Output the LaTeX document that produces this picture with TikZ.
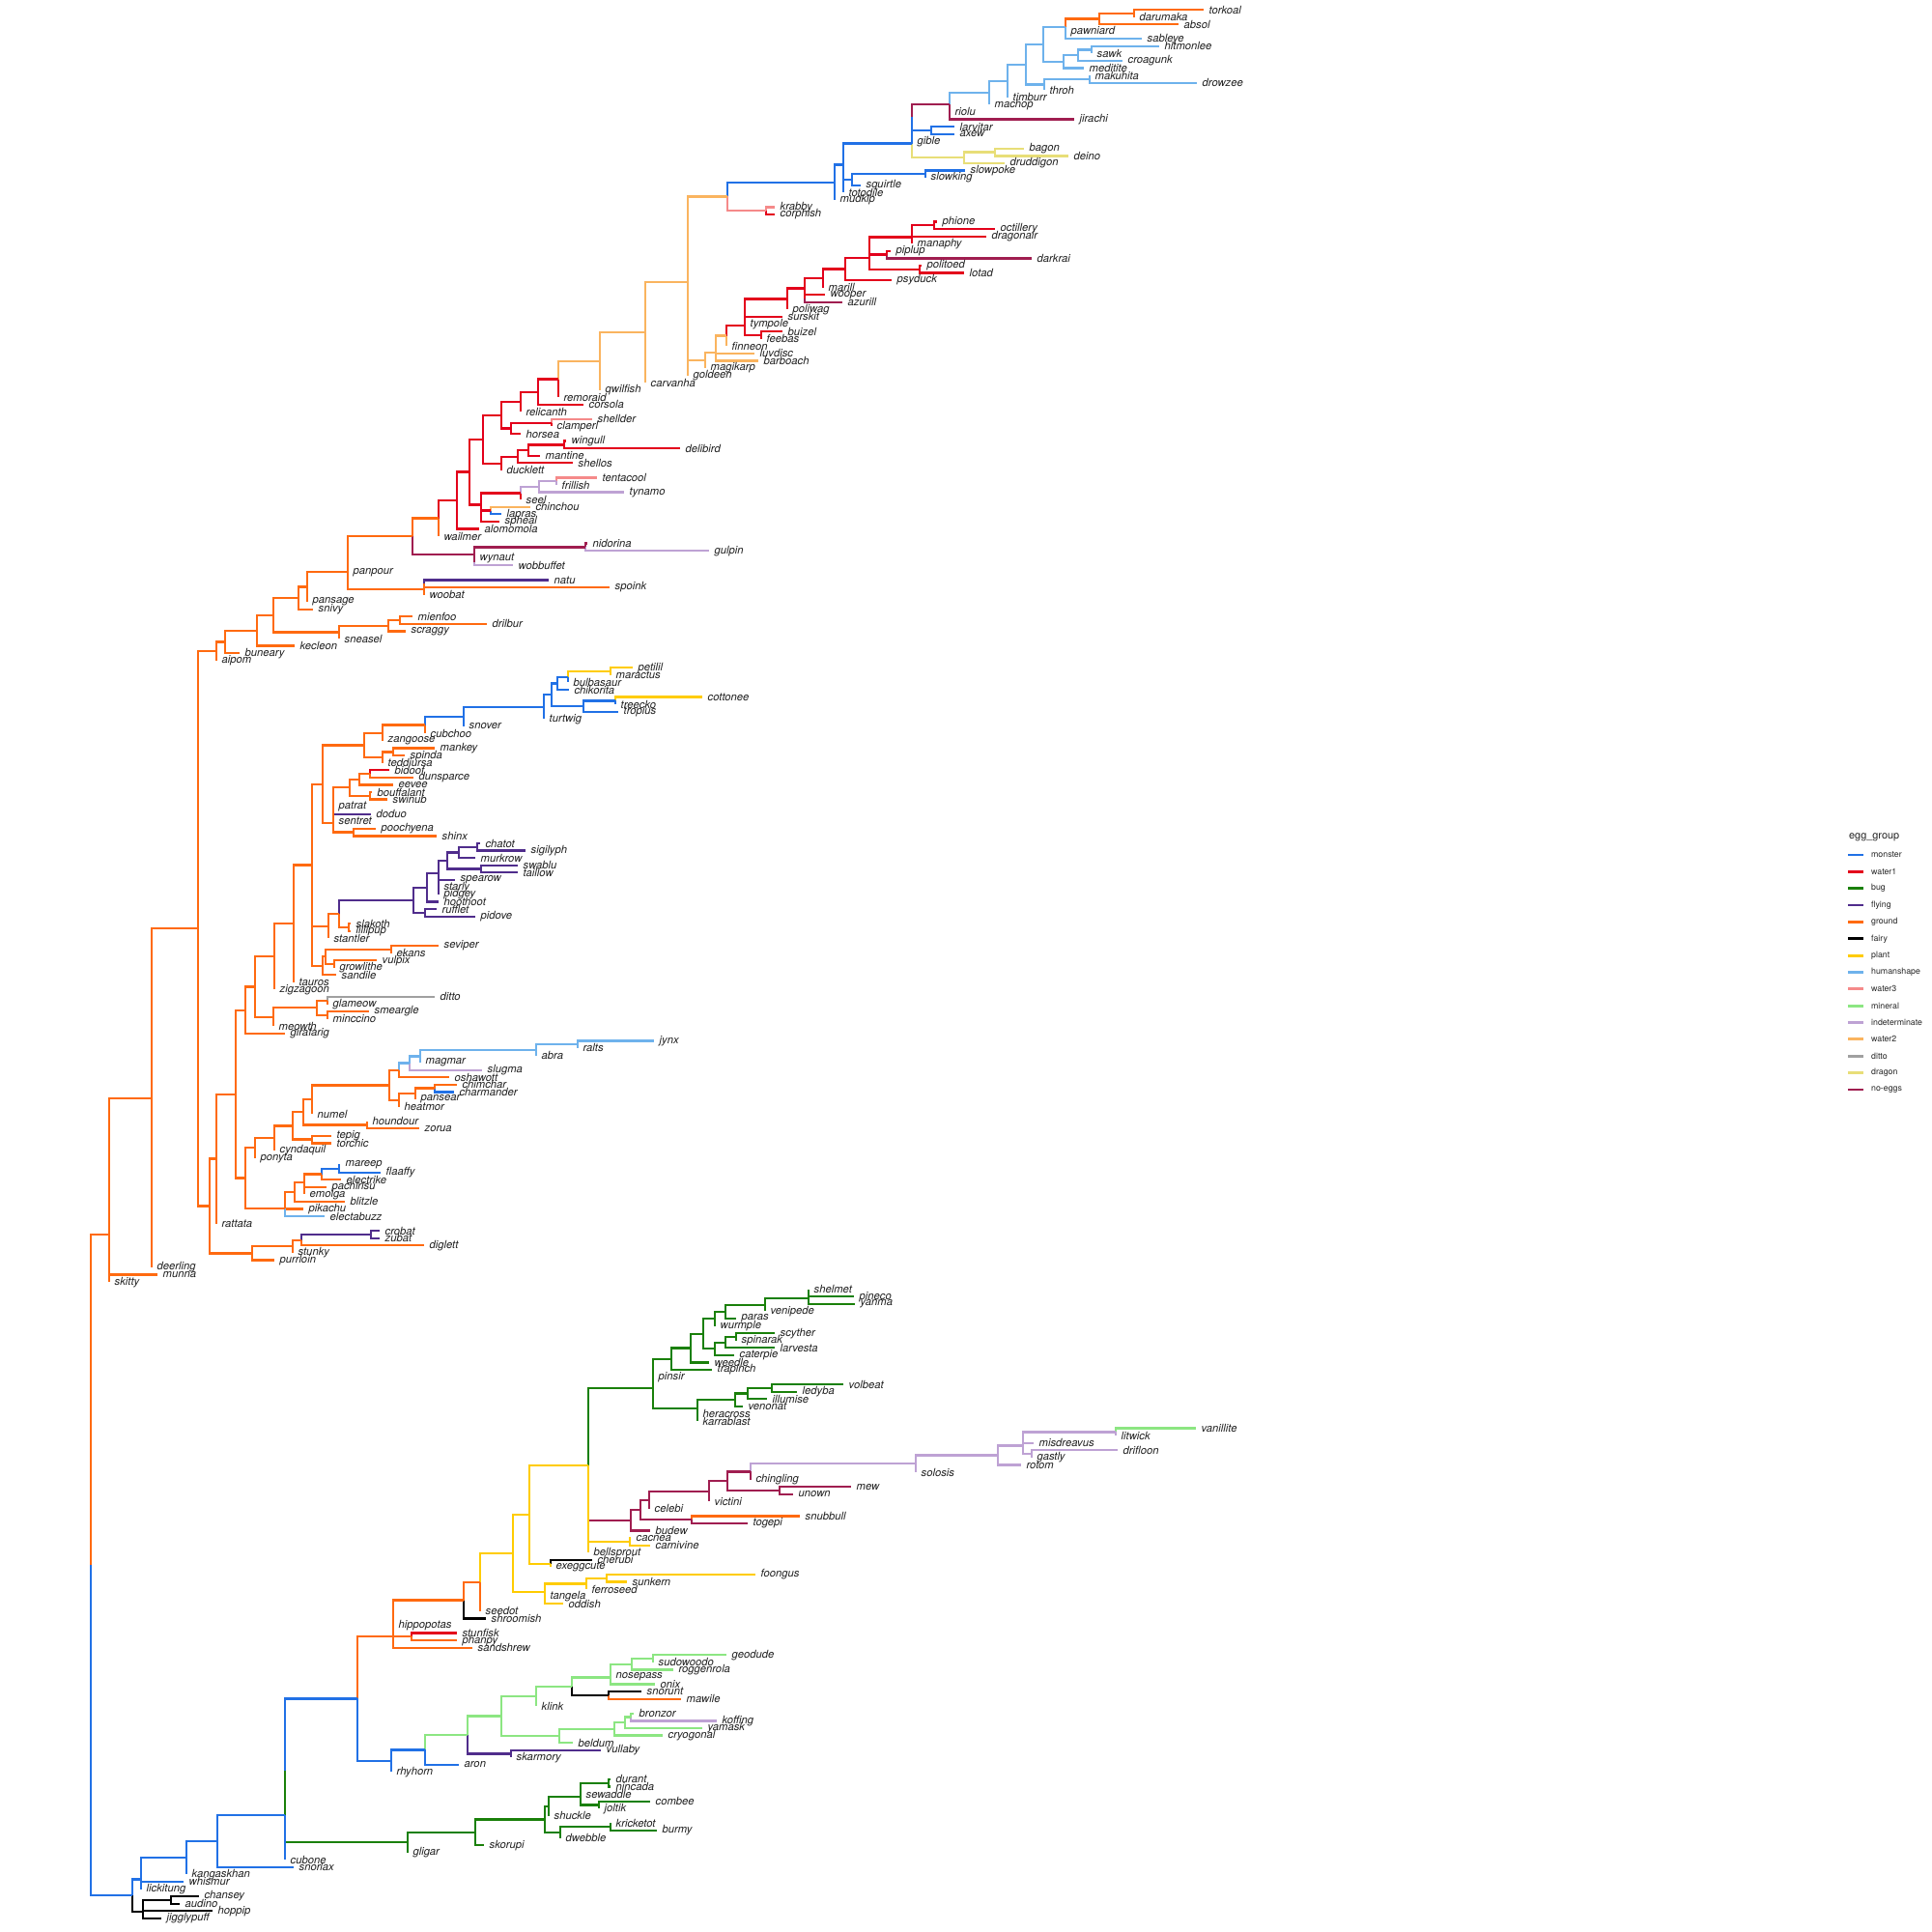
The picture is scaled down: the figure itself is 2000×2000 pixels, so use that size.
\documentclass[tikz,border=0pt]{standalone}
\usepackage{fontspec}
\setmainfont{TeX Gyre Heros}

\definecolor{monster}{RGB}{33,113,230}
\definecolor{water1}{RGB}{227,0,27}
\definecolor{bug}{RGB}{26,128,10}
\definecolor{flying}{RGB}{80,45,140}
\definecolor{ground}{RGB}{255,106,16}
\definecolor{fairy}{RGB}{0,0,0}
\definecolor{plant}{RGB}{255,204,0}
\definecolor{humanshape}{RGB}{110,178,236}
\definecolor{water3}{RGB}{245,138,138}
\definecolor{mineral}{RGB}{140,230,130}
\definecolor{indeterminate}{RGB}{190,162,212}
\definecolor{water2}{RGB}{250,180,95}
\definecolor{ditto}{RGB}{160,160,160}
\definecolor{dragon}{RGB}{232,222,120}
\definecolor{noeggs}{RGB}{160,30,80}

\newcounter{tiprow}
\newcommand{\tleaf}[3]{%
  \edef\rown{\arabic{tiprow}}%
  \pgfmathsetmacro{\rowy}{10+7.57*\rown}%
  \stepcounter{tiprow}%
  \expandafter\xdef\csname ty@#1\endcsname{\rowy}%
  \coordinate (#1) at (#2,\rowy);
  \node[tiplab] (#1-lab) at (#1) {#1};
  \tikzset{br-#1/.style={draw=#3}}%
}
\newcommand{\tnode}[5]{%
  \edef\ya{\csname ty@#4\endcsname}%
  \edef\yb{\csname ty@#5\endcsname}%
  \pgfmathsetmacro{\rowy}{(\ya+\yb)/2}%
  \expandafter\xdef\csname ty@#1\endcsname{\rowy}%
  \coordinate (#1) at (#2,\rowy);
  \draw[br-#4] (#1) |- (#4);
  \draw[br-#5] (#1) |- (#5);
  \tikzset{br-#1/.style={draw=#3}}%
}

\begin{document}
\begin{tikzpicture}[x=0.01cm,y=-0.01cm,line width=0.65pt,
  tiplab/.style={anchor=west,inner sep=0pt,xshift=0.045cm,text=black!88,
    font=\fontsize{3.2}{3.8}\selectfont\itshape},
  leglab/.style={anchor=west,inner sep=0pt,text=black!85,
    font=\fontsize{2.5}{3}\selectfont}]
\useasboundingbox (0,0) rectangle (2000,2000);

\tleaf{torkoal}{1246}{ground}
\tleaf{darumaka}{1174}{ground}
\tnode{nA1}{1174}{ground}{torkoal}{darumaka}
\tleaf{absol}{1220}{ground}
\tnode{nA2}{1138}{ground}{nA1}{absol}
\tleaf{pawniard}{1103}{humanshape}
\tleaf{sableye}{1182}{humanshape}
\tnode{nA3}{1103}{humanshape}{pawniard}{sableye}
\tnode{nA}{1103}{humanshape}{nA2}{nA3}
\tleaf{hitmonlee}{1200}{humanshape}
\tleaf{sawk}{1130}{humanshape}
\tnode{nB}{1130}{humanshape}{hitmonlee}{sawk}
\tleaf{croagunk}{1162}{humanshape}
\tnode{nC}{1116}{humanshape}{nB}{croagunk}
\tleaf{meditite}{1122}{humanshape}
\tnode{nD}{1101}{humanshape}{nC}{meditite}
\tnode{nE}{1080}{humanshape}{nA}{nD}
\tleaf{makuhita}{1128}{humanshape}
\tleaf{drowzee}{1239}{humanshape}
\tnode{nF}{1128}{humanshape}{makuhita}{drowzee}
\tleaf{throh}{1081}{humanshape}
\tnode{nG}{1081}{humanshape}{nF}{throh}
\tnode{nH}{1062}{humanshape}{nE}{nG}
\tleaf{timburr}{1043}{humanshape}
\tnode{nI}{1043}{humanshape}{nH}{timburr}
\tleaf{machop}{1024}{humanshape}
\tnode{nJ}{1024}{humanshape}{nI}{machop}
\tleaf{riolu}{983}{humanshape}
\tleaf{jirachi}{1112}{noeggs}
\tnode{nK2}{983}{noeggs}{riolu}{jirachi}
\tnode{nK}{983}{noeggs}{nJ}{nK2}
\tleaf{larvitar}{988}{monster}
\tleaf{axew}{988}{monster}
\tnode{nM}{964}{monster}{larvitar}{axew}
\tnode{nKM}{944}{monster}{nK}{nM}
\tleaf{gible}{944}{monster}
\tnode{nKMg}{944}{monster}{nKM}{gible}
\tleaf{bagon}{1060}{dragon}
\tleaf{deino}{1106}{dragon}
\tnode{nDr1}{1030}{dragon}{bagon}{deino}
\tleaf{druddigon}{1040}{dragon}
\tnode{nDr}{998}{dragon}{nDr1}{druddigon}
\tnode{nL}{944}{monster}{nKMg}{nDr}
\tleaf{slowpoke}{999}{monster}
\tleaf{slowking}{958}{monster}
\tnode{nN}{958}{monster}{slowpoke}{slowking}
\tleaf{squirtle}{891}{monster}
\tnode{nR}{882}{monster}{nN}{squirtle}
\tleaf{totodile}{873}{monster}
\tnode{nQ2}{873}{monster}{nR}{totodile}
\tnode{nQ}{873}{monster}{nL}{nQ2}
\tleaf{mudkip}{864}{monster}
\tnode{nP}{864}{monster}{nQ}{mudkip}
\tleaf{krabby}{802}{water3}
\tleaf{corphish}{802}{water1}
\tnode{nKc}{793}{water3}{krabby}{corphish}
\tnode{nS}{753}{water2}{nP}{nKc}
\tleaf{phione}{970}{water1}
\tleaf{octillery}{1030}{water1}
\tnode{nPo}{967}{water1}{phione}{octillery}
\tleaf{dragonair}{1021}{water1}
\tnode{nN1}{944}{water1}{nPo}{dragonair}
\tleaf{manaphy}{944}{water1}
\tnode{nN2}{944}{water1}{nN1}{manaphy}
\tleaf{piplup}{922}{water1}
\tleaf{darkrai}{1068}{noeggs}
\tnode{nPd}{918}{water1}{piplup}{darkrai}
\tnode{nW9a}{900}{water1}{nN2}{nPd}
\tleaf{politoed}{954}{water1}
\tleaf{lotad}{998}{water1}
\tnode{nPl}{952}{water1}{politoed}{lotad}
\tnode{nW9}{900}{water1}{nW9a}{nPl}
\tleaf{psyduck}{923}{water1}
\tnode{nW8}{875}{water1}{nW9}{psyduck}
\tleaf{marill}{852}{water1}
\tnode{nW7}{852}{water1}{nW8}{marill}
\tleaf{wooper}{854}{water1}
\tleaf{azurill}{872}{noeggs}
\tnode{nWA}{833}{water1}{wooper}{azurill}
\tnode{nW6}{833}{water1}{nW7}{nWA}
\tleaf{poliwag}{815}{water1}
\tnode{nW5}{815}{water1}{nW6}{poliwag}
\tleaf{surskit}{810}{water1}
\tnode{nW4a}{771}{water1}{nW5}{surskit}
\tleaf{tympole}{771}{water1}
\tnode{nW4b}{771}{water1}{nW4a}{tympole}
\tleaf{buizel}{810}{water1}
\tleaf{feebas}{788}{water1}
\tnode{nBf}{788}{water1}{buizel}{feebas}
\tnode{nW4m}{771}{water1}{nW4b}{nBf}
\tleaf{finneon}{752}{water2}
\tnode{nW3f}{752}{water2}{nW4m}{finneon}
\tleaf{luvdisc}{781}{water2}
\tnode{nW3l}{741}{water2}{nW3f}{luvdisc}
\tleaf{barboach}{785}{water2}
\tnode{nW3b}{741}{water2}{nW3l}{barboach}
\tleaf{magikarp}{730}{water2}
\tnode{nMg}{730}{water2}{nW3b}{magikarp}
\tleaf{goldeen}{712}{water2}
\tnode{nW1a}{712}{water2}{nMg}{goldeen}
\tnode{nW1}{712}{water2}{nS}{nW1a}
\tleaf{carvanha}{668}{water2}
\tnode{nW2}{668}{water2}{nW1}{carvanha}
\tleaf{qwilfish}{621}{water2}
\tnode{nW3}{621}{water2}{nW2}{qwilfish}
\tleaf{remoraid}{578}{water1}
\tnode{nW4}{578}{water1}{nW3}{remoraid}
\tleaf{corsola}{604}{water1}
\tnode{nCo}{557}{water1}{nW4}{corsola}
\tleaf{relicanth}{539}{water1}
\tnode{nRe}{539}{water1}{nCo}{relicanth}
\tleaf{shellder}{613}{water3}
\tleaf{clamperl}{571}{water1}
\tnode{nSc}{571}{water1}{shellder}{clamperl}
\tleaf{horsea}{539}{water1}
\tnode{nHo}{529}{water1}{nSc}{horsea}
\tnode{nRh}{519}{water1}{nRe}{nHo}
\tleaf{wingull}{586}{water1}
\tleaf{delibird}{704}{water1}
\tnode{nWd}{584}{water1}{wingull}{delibird}
\tleaf{mantine}{559}{water1}
\tnode{nMa}{547}{water1}{nWd}{mantine}
\tleaf{shellos}{593}{water1}
\tnode{nSh}{536}{water1}{nMa}{shellos}
\tleaf{ducklett}{519}{water1}
\tnode{nDu}{519}{water1}{nSh}{ducklett}
\tnode{nX5}{500}{water1}{nRh}{nDu}
\tleaf{tentacool}{618}{water3}
\tleaf{frillish}{576}{indeterminate}
\tnode{nTf}{576}{indeterminate}{tentacool}{frillish}
\tleaf{tynamo}{646}{indeterminate}
\tnode{nTy}{558}{indeterminate}{nTf}{tynamo}
\tleaf{seel}{539}{water1}
\tnode{nSe}{539}{water1}{nTy}{seel}
\tleaf{chinchou}{549}{water2}
\tleaf{lapras}{519}{monster}
\tnode{nCl}{508}{water1}{chinchou}{lapras}
\tleaf{spheal}{517}{water1}
\tnode{nCs}{498}{water1}{nCl}{spheal}
\tnode{nX6}{498}{water1}{nSe}{nCs}
\tnode{nX4}{486}{water1}{nX5}{nX6}
\tleaf{alomomola}{496}{water1}
\tnode{nAl}{473}{water1}{nX4}{alomomola}
\tleaf{wailmer}{454}{ground}
\tnode{nWl}{454}{ground}{nAl}{wailmer}
\tleaf{nidorina}{608}{noeggs}
\tleaf{gulpin}{734}{indeterminate}
\tnode{nNg}{606}{noeggs}{nidorina}{gulpin}
\tleaf{wynaut}{491}{noeggs}
\tleaf{wobbuffet}{531}{indeterminate}
\tnode{nWw}{491}{noeggs}{wynaut}{wobbuffet}
\tnode{nMr}{491}{noeggs}{nNg}{nWw}
\tnode{nX1}{427}{ground}{nWl}{nMr}
\tleaf{panpour}{360}{ground}
\tnode{nX1p}{360}{ground}{nX1}{panpour}
\tleaf{natu}{568}{flying}
\tleaf{spoink}{631}{ground}
\tnode{nNs}{439}{ground}{natu}{spoink}
\tleaf{woobat}{439}{ground}
\tnode{nNsw}{439}{ground}{nNs}{woobat}
\tnode{nX0}{360}{ground}{nX1p}{nNsw}
\tleaf{pansage}{318}{ground}
\tnode{nP1}{318}{ground}{nX0}{pansage}
\tleaf{snivy}{324}{ground}
\tnode{nP2}{309}{ground}{nP1}{snivy}
\tleaf{mienfoo}{427}{ground}
\tleaf{drilbur}{504}{ground}
\tnode{nMd}{414}{ground}{mienfoo}{drilbur}
\tleaf{scraggy}{420}{ground}
\tnode{nMs}{402}{ground}{nMd}{scraggy}
\tleaf{sneasel}{351}{ground}
\tnode{nSn}{351}{ground}{nMs}{sneasel}
\tnode{nT1}{283}{ground}{nP2}{nSn}
\tleaf{kecleon}{305}{ground}
\tnode{nT2}{266}{ground}{nT1}{kecleon}
\tleaf{buneary}{248}{ground}
\tnode{nT3}{233}{ground}{nT2}{buneary}
\tleaf{aipom}{224}{ground}
\tnode{nT4}{224}{ground}{nT3}{aipom}

\tleaf{petilil}{655}{plant}
\tleaf{maractus}{632}{plant}
\tnode{nPm}{632}{plant}{petilil}{maractus}
\tleaf{bulbasaur}{588}{monster}
\tnode{nBu}{588}{monster}{nPm}{bulbasaur}
\tleaf{chikorita}{589}{monster}
\tnode{nBc}{577}{monster}{nBu}{chikorita}
\tleaf{cottonee}{727}{plant}
\tleaf{treecko}{637}{monster}
\tnode{nCt}{637}{monster}{cottonee}{treecko}
\tleaf{tropius}{640}{monster}
\tnode{nTr}{604}{monster}{nCt}{tropius}
\tnode{nBt}{571}{monster}{nBc}{nTr}
\tleaf{turtwig}{563}{monster}
\tnode{nTu}{563}{monster}{nBt}{turtwig}
\tleaf{snover}{480}{monster}
\tnode{nSv}{480}{monster}{nTu}{snover}
\tleaf{cubchoo}{440}{ground}
\tnode{nCu}{440}{ground}{nSv}{cubchoo}
\tleaf{zangoose}{396}{ground}
\tnode{nZa}{396}{ground}{nCu}{zangoose}
\tleaf{mankey}{450}{ground}
\tleaf{spinda}{419}{ground}
\tnode{nMk}{407}{ground}{mankey}{spinda}
\tleaf{teddiursa}{396}{ground}
\tnode{nTe}{396}{ground}{nMk}{teddiursa}
\tnode{nZt}{377}{ground}{nZa}{nTe}
\tleaf{bidoof}{403}{water1}
\tleaf{dunsparce}{428}{ground}
\tnode{nBd}{383}{ground}{bidoof}{dunsparce}
\tleaf{eevee}{407}{ground}
\tnode{nEv}{372}{ground}{nBd}{eevee}
\tleaf{bouffalant}{385}{ground}
\tleaf{swinub}{401}{ground}
\tnode{nBs}{383}{ground}{bouffalant}{swinub}
\tnode{nEb}{362}{ground}{nEv}{nBs}
\tleaf{patrat}{345}{ground}
\tnode{nPt1}{345}{ground}{nEb}{patrat}
\tleaf{doduo}{384}{flying}
\tnode{nPt2}{345}{ground}{nPt1}{doduo}
\tleaf{sentret}{345}{ground}
\tnode{nPt3}{345}{ground}{nPt2}{sentret}
\tleaf{poochyena}{389}{ground}
\tleaf{shinx}{452}{ground}
\tnode{nPs}{366}{ground}{poochyena}{shinx}
\tnode{nPt}{345}{ground}{nPt3}{nPs}
\tnode{nZp}{334}{ground}{nZt}{nPt}
\tleaf{chatot}{497}{flying}
\tleaf{sigilyph}{544}{flying}
\tnode{nCs2}{494}{flying}{chatot}{sigilyph}
\tleaf{murkrow}{492}{flying}
\tnode{nMu}{475}{flying}{nCs2}{murkrow}
\tleaf{swablu}{536}{flying}
\tleaf{taillow}{536}{flying}
\tnode{nSt}{498}{flying}{swablu}{taillow}
\tnode{nFl1}{463}{flying}{nMu}{nSt}
\tleaf{spearow}{471}{flying}
\tleaf{starly}{454}{flying}
\tleaf{pidgey}{454}{flying}
\tnode{nFl2c}{454}{flying}{starly}{pidgey}
\tnode{nFl2b}{454}{flying}{spearow}{nFl2c}
\tnode{nFl2}{454}{flying}{nFl1}{nFl2b}
\tleaf{hoothoot}{454}{flying}
\tnode{nFl3}{442}{flying}{nFl2}{hoothoot}
\tleaf{rufflet}{452}{flying}
\tleaf{pidove}{492}{flying}
\tnode{nRp}{440}{flying}{rufflet}{pidove}
\tnode{nFl}{428}{flying}{nFl3}{nRp}
\tleaf{slakoth}{363}{ground}
\tleaf{lillipup}{363}{ground}
\tnode{nSl}{361}{ground}{slakoth}{lillipup}
\tnode{nFs}{351}{ground}{nFl}{nSl}
\tleaf{stantler}{340}{ground}
\tnode{nSs}{340}{ground}{nFs}{stantler}
\tleaf{seviper}{454}{ground}
\tleaf{ekans}{405}{ground}
\tnode{nSe2}{405}{ground}{seviper}{ekans}
\tleaf{vulpix}{390}{ground}
\tleaf{growlithe}{346}{ground}
\tnode{nVg}{346}{ground}{vulpix}{growlithe}
\tnode{nSv2}{337}{ground}{nSe2}{nVg}
\tleaf{sandile}{348}{ground}
\tnode{nSa}{334}{ground}{nSv2}{sandile}
\tnode{nSm}{323}{ground}{nSs}{nSa}
\tnode{nZs}{323}{ground}{nZp}{nSm}
\tleaf{tauros}{304}{ground}
\tnode{nTa}{304}{ground}{nZs}{tauros}
\tleaf{zigzagoon}{284}{ground}
\tnode{nZi}{284}{ground}{nTa}{zigzagoon}
\tleaf{ditto}{450}{ditto}
\tleaf{glameow}{339}{ground}
\tnode{nDg}{339}{ground}{ditto}{glameow}
\tleaf{smeargle}{382}{ground}
\tleaf{minccino}{339}{ground}
\tnode{nSmc}{339}{ground}{smeargle}{minccino}
\tnode{nDs}{328}{ground}{nDg}{nSmc}
\tleaf{meowth}{283}{ground}
\tnode{nMe}{283}{ground}{nDs}{meowth}
\tnode{nZm}{264}{ground}{nZi}{nMe}
\tleaf{girafarig}{295}{ground}
\tnode{nGi}{254}{ground}{nZm}{girafarig}
\tleaf{jynx}{677}{humanshape}
\tleaf{ralts}{598}{humanshape}
\tnode{nJr}{598}{humanshape}{jynx}{ralts}
\tleaf{abra}{555}{humanshape}
\tnode{nAb}{555}{humanshape}{nJr}{abra}
\tleaf{magmar}{435}{humanshape}
\tnode{nMm}{435}{humanshape}{nAb}{magmar}
\tleaf{slugma}{499}{indeterminate}
\tnode{nSg}{424}{humanshape}{nMm}{slugma}
\tleaf{oshawott}{465}{ground}
\tnode{nOs}{413}{ground}{nSg}{oshawott}
\tleaf{chimchar}{473}{ground}
\tleaf{charmander}{470}{monster}
\tnode{nCc}{450}{ground}{chimchar}{charmander}
\tleaf{pansear}{430}{ground}
\tnode{nCp}{430}{ground}{nCc}{pansear}
\tleaf{heatmor}{413}{ground}
\tnode{nCh}{413}{ground}{nCp}{heatmor}
\tnode{nOc}{403}{ground}{nOs}{nCh}
\tleaf{numel}{323}{ground}
\tnode{nNu}{323}{ground}{nOc}{numel}
\tleaf{houndour}{380}{ground}
\tleaf{zorua}{434}{ground}
\tnode{nHz}{380}{ground}{houndour}{zorua}
\tnode{nNh}{314}{ground}{nNu}{nHz}
\tleaf{tepig}{343}{ground}
\tleaf{torchic}{343}{ground}
\tnode{nTt}{323}{ground}{tepig}{torchic}
\tnode{nNt}{303}{ground}{nNh}{nTt}
\tleaf{cyndaquil}{284}{ground}
\tnode{nCy}{284}{ground}{nNt}{cyndaquil}
\tleaf{ponyta}{264}{ground}
\tnode{nPo2}{264}{ground}{nCy}{ponyta}
\tleaf{mareep}{352}{monster}
\tleaf{flaaffy}{394}{monster}
\tnode{nMf}{351}{monster}{mareep}{flaaffy}
\tleaf{electrike}{353}{ground}
\tnode{nEl}{333}{ground}{nMf}{electrike}
\tleaf{pachirisu}{338}{ground}
\tleaf{emolga}{315}{ground}
\tnode{nPe}{315}{ground}{pachirisu}{emolga}
\tnode{nEp}{315}{ground}{nEl}{nPe}
\tleaf{blitzle}{357}{ground}
\tnode{nBl}{305}{ground}{nEp}{blitzle}
\tleaf{pikachu}{314}{ground}
\tnode{nBp}{295}{ground}{nBl}{pikachu}
\tleaf{electabuzz}{336}{humanshape}
\tnode{nBe}{295}{ground}{nBp}{electabuzz}
\tnode{nPb}{254}{ground}{nPo2}{nBe}
\tnode{nGp}{244}{ground}{nGi}{nPb}
\tleaf{rattata}{224}{ground}
\tnode{nRa}{224}{ground}{nGp}{rattata}
\tleaf{crobat}{393}{flying}
\tleaf{zubat}{393}{flying}
\tnode{nCz}{384}{flying}{crobat}{zubat}
\tleaf{diglett}{439}{ground}
\tnode{nCd}{312}{ground}{nCz}{diglett}
\tleaf{stunky}{303}{ground}
\tnode{nSk}{303}{ground}{nCd}{stunky}
\tleaf{purrloin}{284}{ground}
\tnode{nPu}{261}{ground}{nSk}{purrloin}
\tnode{nRp2}{217}{ground}{nRa}{nPu}
\tnode{nUp}{205}{ground}{nT4}{nRp2}
\tleaf{deerling}{157}{ground}
\tnode{nDe}{157}{ground}{nUp}{deerling}
\tleaf{munna}{163}{ground}
\tnode{nMn}{113}{ground}{nDe}{munna}
\tleaf{skitty}{113}{ground}
\tnode{nTop}{113}{ground}{nMn}{skitty}

\tleaf{shelmet}{837}{bug}
\tleaf{pineco}{884}{bug}
\tnode{nSp}{837}{bug}{shelmet}{pineco}
\tleaf{yanma}{885}{bug}
\tnode{nSy}{837}{bug}{nSp}{yanma}
\tleaf{venipede}{792}{bug}
\tnode{nVe}{792}{bug}{nSy}{venipede}
\tleaf{paras}{762}{bug}
\tnode{nPa}{751}{bug}{nVe}{paras}
\tleaf{wurmple}{740}{bug}
\tnode{nWu}{740}{bug}{nPa}{wurmple}
\tleaf{scyther}{802}{bug}
\tleaf{spinarak}{762}{bug}
\tnode{nSc2}{762}{bug}{scyther}{spinarak}
\tleaf{larvesta}{802}{bug}
\tnode{nLa}{751}{bug}{nSc2}{larvesta}
\tleaf{caterpie}{760}{bug}
\tnode{nCa}{740}{bug}{nLa}{caterpie}
\tnode{nB1}{728}{bug}{nWu}{nCa}
\tleaf{weedle}{734}{bug}
\tnode{nB2}{715}{bug}{nB1}{weedle}
\tleaf{trapinch}{737}{bug}
\tnode{nB3}{695}{bug}{nB2}{trapinch}
\tleaf{pinsir}{676}{bug}
\tnode{nB4}{676}{bug}{nB3}{pinsir}
\tleaf{volbeat}{873}{bug}
\tleaf{ledyba}{825}{bug}
\tnode{nVl}{799}{bug}{volbeat}{ledyba}
\tleaf{illumise}{794}{bug}
\tnode{nIl}{774}{bug}{nVl}{illumise}
\tleaf{venonat}{769}{bug}
\tnode{nVn}{761}{bug}{nIl}{venonat}
\tleaf{heracross}{722}{bug}
\tleaf{karrablast}{722}{bug}
\tnode{nHk}{722}{bug}{heracross}{karrablast}
\tnode{nB5}{722}{bug}{nVn}{nHk}
\tnode{nBg}{676}{bug}{nB4}{nB5}
\tleaf{vanillite}{1238}{mineral}
\tleaf{litwick}{1155}{indeterminate}
\tnode{nLv}{1155}{indeterminate}{vanillite}{litwick}
\tleaf{misdreavus}{1070}{indeterminate}
\tnode{nLm}{1059}{indeterminate}{nLv}{misdreavus}
\tleaf{drifloon}{1157}{indeterminate}
\tleaf{gastly}{1068}{indeterminate}
\tnode{nDg2}{1068}{indeterminate}{drifloon}{gastly}
\tnode{nGh}{1059}{indeterminate}{nLm}{nDg2}
\tleaf{rotom}{1057}{indeterminate}
\tnode{nRo}{1033}{indeterminate}{nGh}{rotom}
\tleaf{solosis}{948}{indeterminate}
\tnode{nSo}{948}{indeterminate}{nRo}{solosis}
\tleaf{chingling}{777}{noeggs}
\tnode{nCg}{777}{noeggs}{nSo}{chingling}
\tleaf{mew}{881}{noeggs}
\tleaf{unown}{821}{noeggs}
\tnode{nMu2}{807}{noeggs}{mew}{unown}
\tnode{nMv}{753}{noeggs}{nCg}{nMu2}
\tleaf{victini}{734}{noeggs}
\tnode{nVi}{734}{noeggs}{nMv}{victini}
\tleaf{celebi}{672}{noeggs}
\tnode{nCe}{672}{noeggs}{nVi}{celebi}
\tleaf{snubbull}{828}{ground}
\tleaf{togepi}{774}{noeggs}
\tnode{nSt2}{716}{noeggs}{snubbull}{togepi}
\tnode{nCt2}{663}{noeggs}{nCe}{nSt2}
\tleaf{budew}{673}{noeggs}
\tnode{nBw}{653}{noeggs}{nCt2}{budew}
\tleaf{cacnea}{653}{plant}
\tleaf{carnivine}{673}{plant}
\tnode{nCn}{652}{plant}{cacnea}{carnivine}
\tnode{nBc2}{609}{plant}{nBw}{nCn}
\tleaf{bellsprout}{609}{plant}
\tnode{nBb}{609}{plant}{nBc2}{bellsprout}
\tnode{nGb}{609}{plant}{nBg}{nBb}
\tleaf{cherubi}{613}{fairy}
\tleaf{exeggcute}{570}{plant}
\tnode{nCx}{570}{plant}{cherubi}{exeggcute}
\tnode{nGx}{548}{plant}{nGb}{nCx}
\tleaf{foongus}{782}{plant}
\tleaf{sunkern}{649}{plant}
\tnode{nFs2}{628}{plant}{foongus}{sunkern}
\tleaf{ferroseed}{607}{plant}
\tnode{nFf}{607}{plant}{nFs2}{ferroseed}
\tleaf{tangela}{564}{plant}
\tleaf{oddish}{583}{plant}
\tnode{nTo}{564}{plant}{tangela}{oddish}
\tnode{nFt}{564}{plant}{nFf}{nTo}
\tnode{nGf}{531}{plant}{nGx}{nFt}
\tleaf{seedot}{497}{ground}
\tnode{nGs}{497}{ground}{nGf}{seedot}
\tleaf{shroomish}{503}{fairy}
\tnode{nGsh}{480}{ground}{nGs}{shroomish}
\tleaf{hippopotas}{407}{ground}
\tnode{nHp1}{407}{ground}{nGsh}{hippopotas}
\tleaf{stunfisk}{473}{water1}
\tleaf{phanpy}{473}{ground}
\tnode{nSph}{426}{ground}{stunfisk}{phanpy}
\tnode{nHp2}{407}{ground}{nHp1}{nSph}
\tleaf{sandshrew}{489}{ground}
\tnode{nHp}{407}{ground}{nHp2}{sandshrew}
\tleaf{geodude}{752}{mineral}
\tleaf{sudowoodo}{676}{mineral}
\tnode{nGe}{676}{mineral}{geodude}{sudowoodo}
\tleaf{roggenrola}{697}{mineral}
\tnode{nGr}{654}{mineral}{nGe}{roggenrola}
\tleaf{nosepass}{632}{mineral}
\tnode{nGn}{632}{mineral}{nGr}{nosepass}
\tleaf{onix}{678}{mineral}
\tnode{nGo}{632}{mineral}{nGn}{onix}
\tleaf{snorunt}{664}{fairy}
\tleaf{mawile}{705}{ground}
\tnode{nSm2}{630}{fairy}{snorunt}{mawile}
\tnode{nOs2}{592}{mineral}{nGo}{nSm2}
\tleaf{klink}{555}{mineral}
\tnode{nKl}{555}{mineral}{nOs2}{klink}
\tleaf{bronzor}{656}{mineral}
\tleaf{koffing}{742}{indeterminate}
\tnode{nBk}{653}{mineral}{bronzor}{koffing}
\tleaf{yamask}{727}{mineral}
\tnode{nBy}{647}{mineral}{nBk}{yamask}
\tleaf{cryogonal}{686}{mineral}
\tnode{nBcr}{636}{mineral}{nBy}{cryogonal}
\tleaf{beldum}{593}{mineral}
\tnode{nBe2}{579}{mineral}{nBcr}{beldum}
\tnode{nMi}{519}{mineral}{nKl}{nBe2}
\tleaf{vullaby}{622}{flying}
\tleaf{skarmory}{529}{flying}
\tnode{nVs}{529}{flying}{vullaby}{skarmory}
\tnode{nMv2}{484}{mineral}{nMi}{nVs}
\tleaf{aron}{475}{monster}
\tnode{nAr}{440}{monster}{nMv2}{aron}
\tleaf{rhyhorn}{405}{monster}
\tnode{nRh2}{405}{monster}{nAr}{rhyhorn}
\tnode{nT}{370}{monster}{nHp}{nRh2}
\tleaf{durant}{632}{bug}
\tleaf{nincada}{632}{bug}
\tnode{nDn}{630}{bug}{durant}{nincada}
\tleaf{sewaddle}{601}{bug}
\tnode{nDs2}{601}{bug}{nDn}{sewaddle}
\tleaf{combee}{673}{bug}
\tleaf{joltik}{620}{bug}
\tnode{nCj}{620}{bug}{combee}{joltik}
\tnode{nBs2}{601}{bug}{nDs2}{nCj}
\tleaf{shuckle}{568}{bug}
\tnode{nSu}{568}{bug}{nBs2}{shuckle}
\tleaf{kricketot}{632}{bug}
\tleaf{burmy}{680}{bug}
\tnode{nKb}{632}{bug}{kricketot}{burmy}
\tleaf{dwebble}{580}{bug}
\tnode{nDw}{580}{bug}{nKb}{dwebble}
\tnode{nBd2}{564}{bug}{nSu}{nDw}
\tleaf{skorupi}{501}{bug}
\tnode{nSr}{492}{bug}{nBd2}{skorupi}
\tleaf{gligar}{422}{bug}
\tnode{nGl}{422}{bug}{nSr}{gligar}
\tnode{nTg}{295}{bug}{nT}{nGl}
\tleaf{cubone}{295}{monster}
\tnode{nTc}{295}{monster}{nTg}{cubone}
\tleaf{snorlax}{304}{monster}
\tnode{nSx}{225}{monster}{nTc}{snorlax}
\tleaf{kangaskhan}{193}{monster}
\tnode{nKa}{193}{monster}{nSx}{kangaskhan}
\tleaf{whismur}{190}{monster}
\tnode{nWh}{146}{monster}{nKa}{whismur}
\tleaf{lickitung}{146}{monster}
\tnode{nLi}{146}{monster}{nWh}{lickitung}
\tleaf{chansey}{206}{fairy}
\tleaf{audino}{186}{fairy}
\tnode{nCa2}{177}{fairy}{chansey}{audino}
\tleaf{hoppip}{220}{fairy}
\tnode{nCh2}{148}{fairy}{nCa2}{hoppip}
\tleaf{jigglypuff}{167}{fairy}
\tnode{nJi}{148}{fairy}{nCh2}{jigglypuff}
\tnode{nBot}{137}{monster}{nLi}{nJi}
\tnode{root}{94}{monster}{nTop}{nBot}

\node[leglab,font=\fontsize{3.1}{3.7}\selectfont] (legtitle) at (1913,867) {egg\_group};
\foreach \col/\txt [count=\i from 0] in {monster/monster,water1/water1,bug/bug,flying/flying,ground/ground,fairy/fairy,plant/plant,humanshape/humanshape,water3/water3,mineral/mineral,indeterminate/indeterminate,water2/water2,ditto/ditto,dragon/dragon,noeggs/no-eggs}
{
  \pgfmathsetmacro\ky{885+17.35*\i}
  \coordinate (key\i) at (1913,\ky);
  \coordinate (keyend\i) at (1929,\ky);
  \draw[draw=\col,line width=0.8pt] (key\i) -- (keyend\i);
  \node[leglab] (keylab\i) at (1936,\ky) {\txt};
}
\end{tikzpicture}
\end{document}
